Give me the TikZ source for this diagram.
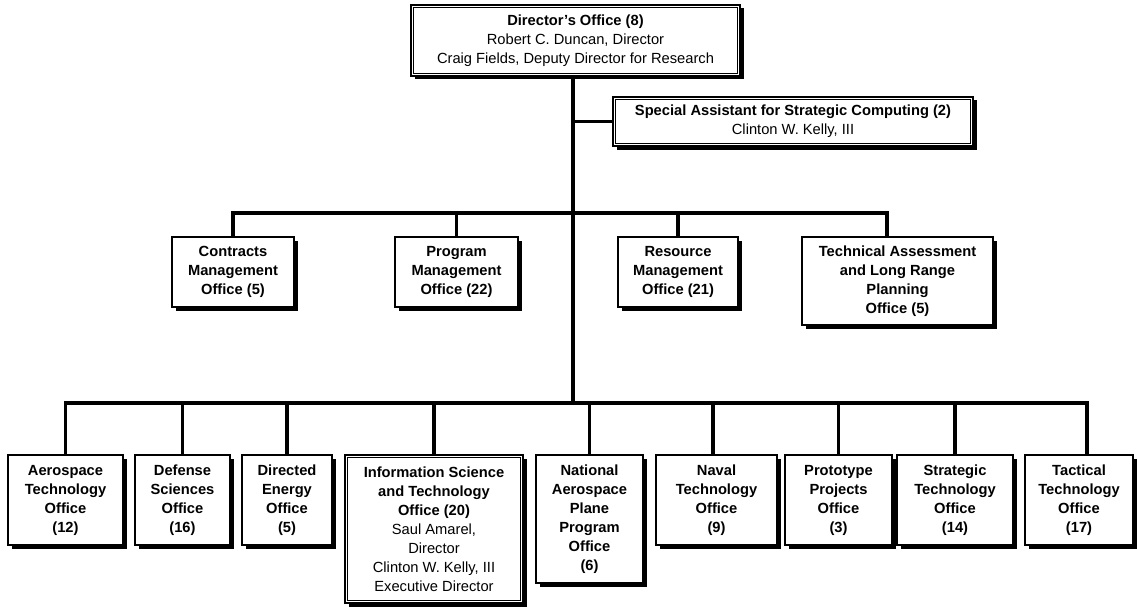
\documentclass[tikz,border=0pt]{standalone}
\usepackage{fontspec}
\setmainfont{Liberation Sans}
\usetikzlibrary{shadows}
\begin{document}
\begin{tikzpicture}[x=1pt,y=-1pt,
  unit/.style={draw, line width=1.4pt, fill=white, inner sep=0pt, align=center,
    font=\fontsize{14.7}{19}\selectfont\bfseries,
    drop shadow={shadow xshift=3.5pt, shadow yshift=-3.5pt, opacity=1, fill=black}},
  link/.style={line width=3.3pt},
  inner frame/.style={line width=0.8pt}]
\useasboundingbox (0,0) rectangle (1137,607);

% ---- offices -------------------------------------------------------------
\node[unit, line width=1.8pt, minimum width=329pt, minimum height=71pt] (dir) at (575.5,40.5)
  {Director's Office (8)\\{\mdseries Robert C. Duncan, Director}\\{\mdseries Craig Fields, Deputy Director for Research}};
\node[unit, line width=1.8pt, minimum width=360pt, minimum height=49pt] (sa) at (793,121.5)
  {Special Assistant for Strategic Computing (2)\\{\mdseries Clinton W. Kelly, III}};

\node[unit, minimum width=122pt, minimum height=70pt] (con) at (233,272)
  {Contracts\\Management\\Office (5)};
\node[unit, minimum width=123pt, minimum height=70pt] (prg) at (456.5,272)
  {Program\\Management\\Office (22)};
\node[unit, minimum width=120pt, minimum height=70pt] (res) at (678,272)
  {Resource\\Management\\Office (21)};
\node[unit, minimum width=191pt, minimum height=88pt] (tec) at (897.5,281)
  {Technical Assessment\\and Long Range\\Planning\\Office (5)};

\node[unit, minimum width=115pt, minimum height=90pt] (aer) at (65.5,500)
  {Aerospace\\Technology\\Office\\(12)};
\node[unit, minimum width=95pt, minimum height=90pt] (def) at (182.5,500)
  {Defense\\Sciences\\Office\\(16)};
\node[unit, minimum width=90pt, minimum height=90pt] (den) at (287,500)
  {Directed\\Energy\\Office\\(5)};
\node[unit, line width=1.8pt, minimum width=178pt, minimum height=148pt] (ist) at (434,529)
  {Information Science\\and Technology\\Office (20)\\{\mdseries Saul Amarel,}\\{\mdseries Director}\\{\mdseries Clinton W. Kelly, III}\\{\mdseries Executive Director}};
\node[unit, minimum width=107pt, minimum height=128pt] (nas) at (589.5,519)
  {National\\Aerospace\\Plane\\Program\\Office\\(6)};
\node[unit, minimum width=121pt, minimum height=90pt] (nav) at (716.5,500)
  {Naval\\Technology\\Office\\(9)};
\node[unit, minimum width=107pt, minimum height=90pt] (pro) at (838.5,500)
  {Prototype\\Projects\\Office\\(3)};
\node[unit, minimum width=116pt, minimum height=90pt] (str) at (955,500)
  {Strategic\\Technology\\Office\\(14)};
\node[unit, minimum width=108pt, minimum height=90pt] (tac) at (1079,500)
  {Tactical\\Technology\\Office\\(17)};

% inner lines of the double-framed offices
\foreach \n in {dir,sa,ist}
  \draw[inner frame] ([shift={(3.5,3.5)}]\n.north west) rectangle ([shift={(-3.5,-3.5)}]\n.south east);

% ---- reporting lines -----------------------------------------------------
\coordinate (spine) at (573,0);
\coordinate (midbus) at (0,213);
\coordinate (lowbus) at (0,403);
\coordinate (tecdrop) at (887,0);
\coordinate (navdrop) at (713,0);
\coordinate (tacdrop) at (1087,0);

\draw[link] (dir.south -| spine) -- (spine |- lowbus);
\draw[link] (spine |- sa.west) -- (sa.west);

\draw[link] (con.north) -- (con.north |- midbus) -- (tecdrop |- midbus) -- (tecdrop |- tec.north);
\draw[link] (prg.north) -- (prg.north |- midbus);
\draw[link] (res.north) -- (res.north |- midbus);

\draw[link] (aer.north) -- (aer.north |- lowbus) -- (tacdrop |- lowbus) -- (tacdrop |- tac.north);
\foreach \n in {def,den,ist,nas,pro,str}
  \draw[link] (\n.north) -- (\n.north |- lowbus);
\draw[link] (navdrop |- nav.north) -- (navdrop |- lowbus);
\end{tikzpicture}
\end{document}
